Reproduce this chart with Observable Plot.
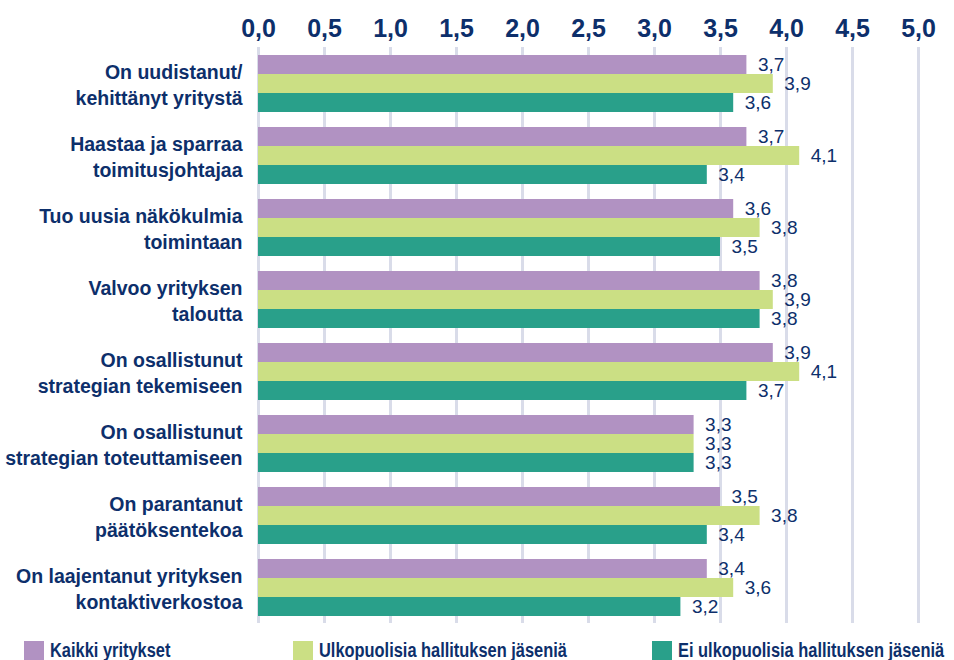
<!DOCTYPE html>
<html><head><meta charset="utf-8">
<script src="https://cdn.jsdelivr.net/npm/d3@7"></script>
<script src="https://cdn.jsdelivr.net/npm/@observablehq/plot@0.6"></script>
<style>
html,body{margin:0;padding:0;background:#fff;}
#wrap{position:relative;width:954px;height:660px;overflow:hidden;}
#legend{position:absolute;left:0;top:632px;width:954px;height:28px;font-family:'Liberation Sans',sans-serif;font-weight:bold;font-size:20px;line-height:20px;color:#0d2f6b;}
.item{position:absolute;top:7px;white-space:nowrap;}
.sw{position:absolute;top:2px;left:0;width:20px;height:19px;}
.lt{position:absolute;top:1px;display:inline-block;transform:scaleX(0.82);transform-origin:0 0;}
</style></head>
<body><div id="wrap"><div id="chart"></div><div id="legend"></div></div>
<script>
const categories = [
  "On uudistanut/\nkehittänyt yritystä",
  "Haastaa ja sparraa\ntoimitusjohtajaa",
  "Tuo uusia näkökulmia\ntoimintaan",
  "Valvoo yrityksen\ntaloutta",
  "On osallistunut\nstrategian tekemiseen",
  "On osallistunut\nstrategian toteuttamiseen",
  "On parantanut\npäätöksentekoa",
  "On laajentanut yrityksen\nkontaktiverkostoa"
];
const series = ["Kaikki yritykset", "Ulkopuolisia hallituksen jäseniä", "Ei ulkopuolisia hallituksen jäseniä"];
const kaikki = [3.7, 3.7, 3.6, 3.8, 3.9, 3.3, 3.5, 3.4];
const ulkopuolisia = [3.9, 4.1, 3.8, 3.9, 4.1, 3.3, 3.8, 3.6];
const eiUlkopuolisia = [3.6, 3.4, 3.5, 3.8, 3.7, 3.3, 3.4, 3.2];
const xTicks = [0, 0.5, 1, 1.5, 2, 2.5, 3, 3.5, 4, 4.5, 5];
const colors = ["#b192c2", "#cbdf84", "#29a08a"];
const navy = "#0d2f6b";

const seriesValues = [kaikki, ulkopuolisia, eiUlkopuolisia];
const data = categories.flatMap((c, i) => series.map((s, j) => ({cat: c, series: s, value: seriesValues[j][i]})));
const fmt = v => v.toFixed(1).replace(".", ",");

const chart = Plot.plot({
  width: 954, height: 632,
  marginTop: 45, marginLeft: 258, marginRight: 36, marginBottom: 7,
  style: {fontFamily: "'Liberation Sans',sans-serif", color: navy, background: "#fff"},
  x: {domain: [0, 5], label: null},
  fy: {domain: categories, padding: 0, axis: null, label: null},
  y: {domain: series, paddingInner: 0, paddingOuter: 0.375, axis: null, label: null},
  color: {domain: series, range: colors},
  marks: [
    Plot.gridX(xTicks, {stroke: "#d9dce9", strokeWidth: 3, strokeOpacity: 1}),
    Plot.barX(data, {fy: "cat", y: "series", x: "value", fill: "series"}),
    Plot.text(data, {fy: "cat", y: "series", x: "value", text: d => fmt(d.value), dx: 11, textAnchor: "start",
      fill: navy, fontSize: 19}),
    Plot.text(categories, {fy: d => d, text: d => d, frameAnchor: "left", textAnchor: "end", dx: -16,
      fill: navy, fontSize: 19.5, fontWeight: "bold", lineHeight: 1.32}),
    Plot.axisX({anchor: "top", ticks: xTicks, tickFormat: fmt, tickSize: 0, tickPadding: 11,
      fontSize: 25, fontWeight: "bold", fill: navy, label: null})
  ]
});
document.getElementById("chart").appendChild(chart);

const legend = document.getElementById("legend");
const lefts = [24, 293, 652];
series.forEach((s, j) => {
  const it = document.createElement("div");
  it.className = "item";
  it.style.left = lefts[j] + "px";
  const sw = document.createElement("div");
  sw.className = "sw";
  sw.style.background = colors[j];
  const t = document.createElement("span");
  t.className = "lt";
  t.style.left = "26px";
  t.textContent = s;
  it.appendChild(sw); it.appendChild(t);
  legend.appendChild(it);
});
</script></body></html>
